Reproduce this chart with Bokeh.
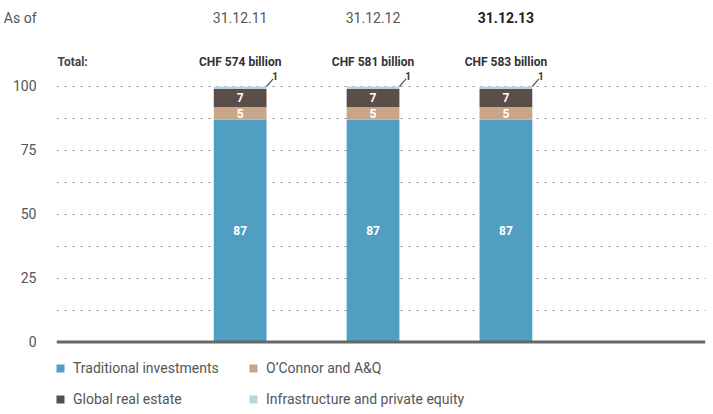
from bokeh.plotting import figure
from bokeh.models import (ColumnDataSource, Range1d, FixedTicker, Span, Label,
                          Legend, LegendItem)
from bokeh.core.properties import value
from bokeh.embed import file_html
from bokeh.resources import INLINE

# ---- data ----
dates = ["31.12.11", "31.12.12", "31.12.13"]
totals = ["CHF 574 billion", "CHF 581 billion", "CHF 583 billion"]
series = ["Traditional investments", "O\u2019Connor and A&Q",
          "Global real estate", "Infrastructure and private equity"]
traditional = [87, 87, 87]
oconnor = [5, 5, 5]
global_re = [7, 7, 7]
infra = [1, 1, 1]
y_ticks = [0, 25, 50, 75, 100]
grid_ticks = [12.5, 25, 37.5, 50, 62.5, 75, 87.5, 100]
header_label = "As of"
header_pos = 127.0   # y position (data units) of the "As of" header row

colors = ["#509fc2", "#c9a68a", "#5b4e49", "#b8d3df"]
keys = ["trad", "oc", "gre", "infra"]
values = [traditional, oconnor, global_re, infra]

FONT = "Roboto"
BAR_W = 0.397

xs = list(range(len(dates)))
data = {"x": xs}
for k, v in zip(keys, values):
    data[k] = v
source = ColumnDataSource(data)

W, H = 713, 414
p = figure(width=W, height=H, output_backend="svg", toolbar_location=None,
           x_range=Range1d(-1.382, 3.502), y_range=Range1d(-28.38, 133.66),
           min_border_left=53, min_border_right=8, min_border_top=0,
           min_border_bottom=0)
p.outline_line_color = None
p.background_fill_color = "white"
p.border_fill_color = "white"

# grid
p.xgrid.visible = False
p.ygrid.ticker = FixedTicker(ticks=grid_ticks)
p.ygrid.grid_line_color = "#8a8a8a"
p.ygrid.grid_line_dash = "2 6"
p.ygrid.grid_line_width = 1.2

# axes
p.xaxis.visible = False
p.yaxis.ticker = FixedTicker(ticks=y_ticks + [header_pos])
p.yaxis.major_label_overrides = {header_pos: header_label}
p.yaxis.axis_line_color = None
p.yaxis.major_tick_line_color = None
p.yaxis.minor_tick_line_color = None
p.yaxis.major_label_standoff = 14
p.yaxis.major_label_text_font = FONT
p.yaxis.major_label_text_font_size = "14px"
p.yaxis.major_label_text_color = "#555555"

renderers = p.vbar_stack(keys, x="x", width=BAR_W, color=colors, source=source,
                         line_color=None)

# baseline
p.add_layout(Span(location=0, dimension="width", line_color="#676767",
                  line_width=3))

# segment labels
lx, ly, lt = [], [], []
ox, oy, ot, sx0, sy0, sx1, sy1 = [], [], [], [], [], [], []
for i in xs:
    bottom = 0
    for v in values:
        val = v[i]
        if val >= 5:
            lx.append(i)
            ly.append(bottom + val / 2)
            lt.append(str(val))
        else:
            top = bottom + val
            sx0.append(i + BAR_W / 2)
            sy0.append(top)
            sx1.append(i + BAR_W / 2 + 0.05)
            sy1.append(top + 3.0)
            ox.append(i + BAR_W / 2 + 0.065)
            oy.append(top + 4.2)
            ot.append(str(val))
        bottom += val

p.text(x=lx, y=ly, text=lt, text_color="white", text_font=value(FONT),
       text_font_size="12px", text_font_style="bold", text_align="center",
       text_baseline="middle")
p.segment(x0=sx0, y0=sy0, x1=sx1, y1=sy1, line_color="#555555", line_width=1.2)
p.text(x=ox, y=oy, text=ot, text_color="#333333", text_font=value(FONT),
       text_font_size="10px", text_font_style="bold", text_align="center",
       text_baseline="middle")

# header (y in screen px measured from the frame bottom)
DATE_Y = 397
TOTAL_Y = 353
p.add_layout(Label(x=1, y=TOTAL_Y, x_units="screen", y_units="screen",
                   text="Total:", text_font=FONT, text_font_size="12px",
                   text_font_style="bold", text_color="#444444",
                   text_baseline="middle", text_align="left"))
for i, (d, t) in enumerate(zip(dates, totals)):
    last = i == len(dates) - 1
    p.add_layout(Label(x=i, y=DATE_Y, y_units="screen", text=d, text_font=FONT,
                       text_font_size="14px",
                       text_font_style="bold" if last else "normal",
                       text_color="#222222" if last else "#555555",
                       text_baseline="middle", text_align="center"))
    p.add_layout(Label(x=i, y=TOTAL_Y, y_units="screen", text=t, text_font=FONT,
                       text_font_size="12px", text_font_style="bold",
                       text_color="#333333", text_baseline="middle",
                       text_align="center"))

# legend (two columns)
def make_legend(idx, vx):
    items = [LegendItem(label=series[j], renderers=[renderers[j]]) for j in idx]
    lg = Legend(items=items, location=(vx, 5), orientation="vertical",
                glyph_width=10, glyph_height=10, label_height=20, spacing=11,
                padding=0, margin=0, label_standoff=8,
                label_text_font=FONT, label_text_font_size="14px",
                label_text_color="#555555", border_line_color=None,
                background_fill_alpha=0)
    p.add_layout(lg, "center")

make_legend([0, 2], -1)
make_legend([1, 3], 192)

open("out.html", "w").write(file_html(p, INLINE))
